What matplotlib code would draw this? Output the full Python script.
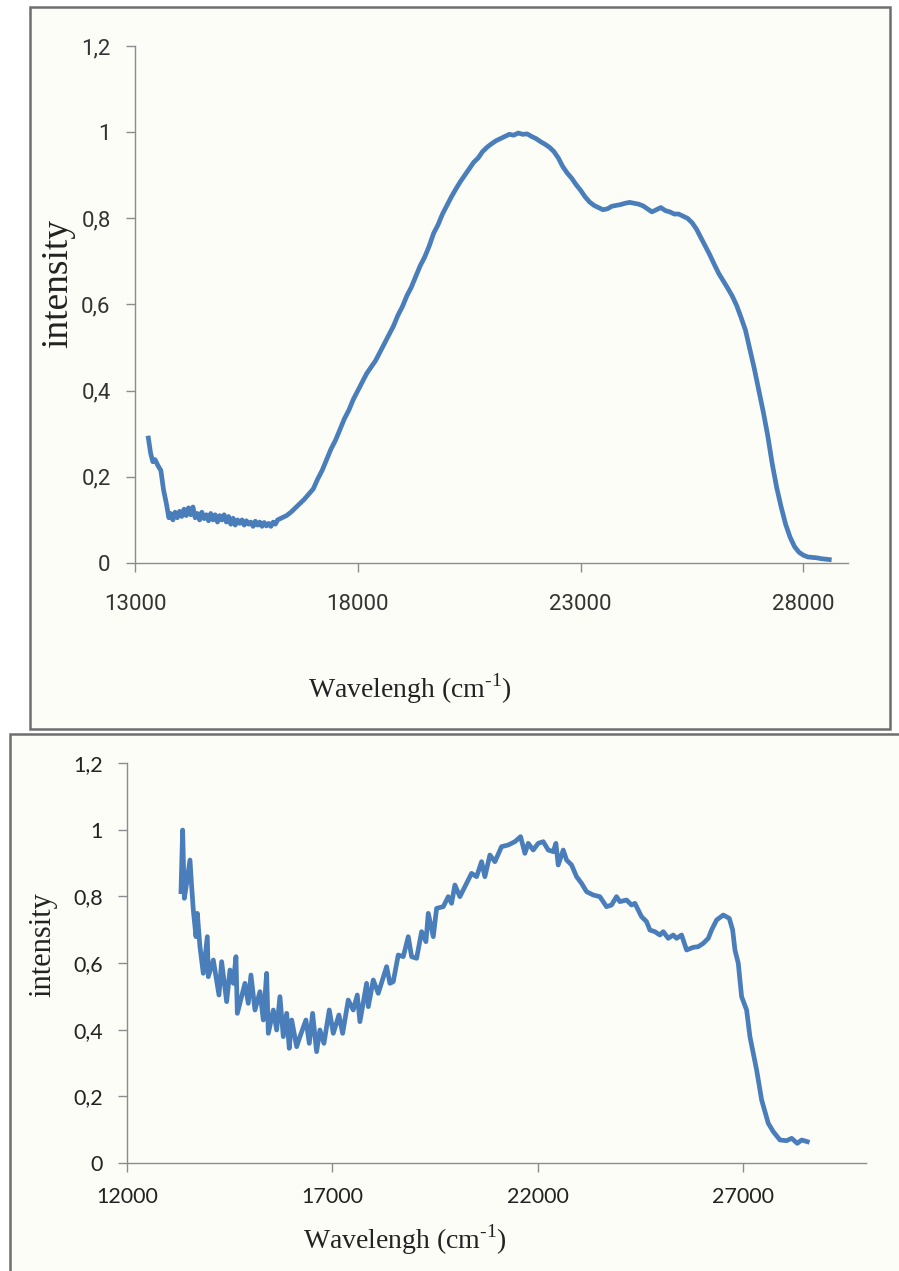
import matplotlib
matplotlib.use("Agg")
import matplotlib.pyplot as plt
from matplotlib.patches import Rectangle

plt.rcParams["axes.unicode_minus"] = False

# ---------------- data ----------------
top_x = [13300, 13350, 13400, 13450, 13520, 13580, 13640, 13700, 13760, 13800,
         13850, 13900, 13950, 14000, 14050, 14100, 14150, 14200, 14250, 14300,
         14350, 14400, 14450, 14500, 14550, 14600, 14650, 14700, 14750, 14800,
         14850, 14900, 14950, 15000, 15050, 15100, 15150, 15200, 15250, 15300,
         15350, 15400, 15450, 15500, 15550, 15600, 15650, 15700, 15750, 15800,
         15850, 15900, 15950, 16000, 16050, 16100, 16150, 16200, 16300, 16400,
         16500, 16600, 16700, 16800, 16900, 17000, 17100, 17200, 17300, 17400,
         17500, 17600, 17700, 17800, 17900, 18000, 18100, 18200, 18300, 18400,
         18500, 18600, 18700, 18800, 18900, 19000, 19100, 19200, 19300, 19400,
         19500, 19600, 19700, 19800, 19900, 20000, 20100, 20200, 20300, 20400,
         20500, 20600, 20700, 20800, 20900, 21000, 21100, 21200, 21300, 21400,
         21500, 21600, 21700, 21800, 21900, 22000, 22100, 22200, 22300, 22400,
         22500, 22600, 22700, 22800, 22900, 23000, 23100, 23200, 23300, 23400,
         23500, 23600, 23700, 23800, 23900, 24000, 24100, 24200, 24300, 24400,
         24500, 24600, 24700, 24800, 24900, 25000, 25100, 25200, 25300, 25400,
         25500, 25600, 25700, 25800, 25900, 26000, 26100, 26200, 26300, 26400,
         26500, 26600, 26700, 26800, 26900, 27000, 27100, 27200, 27300, 27400,
         27500, 27600, 27700, 27800, 27900, 28000, 28100, 28200, 28300, 28400,
         28500, 28580]
top_y = [0.290, 0.255, 0.235, 0.240, 0.225, 0.215, 0.170, 0.140, 0.105, 0.115,
         0.100, 0.118, 0.105, 0.120, 0.108, 0.125, 0.110, 0.128, 0.112, 0.130,
         0.105, 0.115, 0.100, 0.118, 0.103, 0.112, 0.098, 0.115, 0.100, 0.112,
         0.095, 0.110, 0.100, 0.112, 0.095, 0.108, 0.090, 0.104, 0.088, 0.100,
         0.092, 0.100, 0.088, 0.098, 0.090, 0.095, 0.085, 0.097, 0.088, 0.095,
         0.085, 0.094, 0.086, 0.092, 0.085, 0.095, 0.090, 0.100, 0.105, 0.110,
         0.118, 0.128, 0.138, 0.148, 0.160, 0.172, 0.195, 0.215, 0.240, 0.265,
         0.285, 0.310, 0.335, 0.355, 0.380, 0.400, 0.420, 0.440, 0.455, 0.470,
         0.490, 0.510, 0.530, 0.550, 0.575, 0.595, 0.620, 0.640, 0.665, 0.690,
         0.710, 0.735, 0.765, 0.785, 0.810, 0.830, 0.850, 0.868, 0.885, 0.900,
         0.915, 0.930, 0.940, 0.955, 0.965, 0.973, 0.980, 0.985, 0.990, 0.995,
         0.993, 0.998, 0.995, 0.996, 0.990, 0.985, 0.978, 0.972, 0.965, 0.955,
         0.940, 0.920, 0.905, 0.893, 0.878, 0.865, 0.850, 0.838, 0.830, 0.825,
         0.820, 0.822, 0.828, 0.830, 0.832, 0.835, 0.837, 0.835, 0.833, 0.829,
         0.822, 0.815, 0.820, 0.825, 0.818, 0.815, 0.810, 0.810, 0.805, 0.800,
         0.790, 0.775, 0.755, 0.735, 0.715, 0.693, 0.672, 0.655, 0.638, 0.620,
         0.598, 0.570, 0.540, 0.495, 0.450, 0.400, 0.350, 0.295, 0.230, 0.175,
         0.130, 0.090, 0.060, 0.038, 0.025, 0.018, 0.014, 0.013, 0.012, 0.010,
         0.009, 0.008]

bot_x = [13315, 13355, 13396, 13453, 13534, 13575, 13615, 13680, 13713, 13777,
         13858, 13956, 13980, 14102, 14240, 14305, 14427, 14508, 14589, 14654,
         14687, 14873, 14954, 15019, 15117, 15238, 15320, 15401, 15442, 15564,
         15645, 15725, 15807, 15889, 15952, 16011, 16132, 16212, 16358, 16440,
         16521, 16618, 16699, 16797, 16927, 17024, 17162, 17252, 17389, 17511,
         17609, 17673, 17836, 17877, 17998, 18120, 18323, 18404, 18485, 18607,
         18729, 18851, 18932, 19054, 19176, 19281, 19338, 19460, 19541, 19703,
         19825, 19906, 19986, 20108, 20271, 20393, 20515, 20637, 20717, 20839,
         20961, 21123, 21285, 21448, 21586, 21692, 21773, 21894, 22016, 22138,
         22260, 22382, 22447, 22503, 22625, 22707, 22829, 22950, 23072, 23194,
         23356, 23517, 23680, 23802, 23923, 24005, 24167, 24289, 24370, 24533,
         24655, 24736, 24858, 24980, 25061, 25183, 25305, 25386, 25508, 25630,
         25792, 25914, 26036, 26158, 26239, 26361, 26523, 26670, 26752, 26808,
         26889, 26970, 27092, 27173, 27336, 27458, 27620, 27742, 27905, 28067,
         28189, 28326, 28433, 28570]
bot_y = [0.814, 0.999, 0.794, 0.839, 0.909, 0.829, 0.759, 0.679, 0.749, 0.649,
         0.569, 0.679, 0.559, 0.609, 0.504, 0.604, 0.484, 0.579, 0.539, 0.619,
         0.449, 0.539, 0.479, 0.564, 0.459, 0.514, 0.429, 0.569, 0.389, 0.459,
         0.399, 0.499, 0.379, 0.449, 0.344, 0.429, 0.349, 0.379, 0.429, 0.359,
         0.449, 0.334, 0.399, 0.359, 0.459, 0.389, 0.444, 0.389, 0.489, 0.459,
         0.504, 0.424, 0.539, 0.469, 0.549, 0.509, 0.589, 0.539, 0.544, 0.624,
         0.619, 0.679, 0.619, 0.614, 0.694, 0.664, 0.749, 0.679, 0.764, 0.769,
         0.799, 0.779, 0.834, 0.799, 0.839, 0.869, 0.859, 0.904, 0.859, 0.924,
         0.904, 0.949, 0.954, 0.964, 0.979, 0.929, 0.959, 0.939, 0.959, 0.964,
         0.939, 0.934, 0.959, 0.894, 0.939, 0.909, 0.894, 0.859, 0.839, 0.814,
         0.804, 0.799, 0.769, 0.774, 0.799, 0.784, 0.789, 0.774, 0.779, 0.739,
         0.724, 0.699, 0.694, 0.684, 0.694, 0.674, 0.684, 0.674, 0.684, 0.639,
         0.647, 0.649, 0.659, 0.674, 0.699, 0.729, 0.744, 0.734, 0.699, 0.639,
         0.599, 0.499, 0.459, 0.379, 0.279, 0.189, 0.119, 0.094, 0.069, 0.067,
         0.074, 0.059, 0.069, 0.064]

y_ticks = [0, 0.2, 0.4, 0.6, 0.8, 1, 1.2]
y_tick_labels = ["0", "0,2", "0,4", "0,6", "0,8", "1", "1,2"]
top_x_ticks = [13000, 18000, 23000, 28000]
bot_x_ticks = [12000, 17000, 22000, 27000]
x_label = "Wavelengh (cm$^{\\mathregular{\u2010}\\mathregular{1}}$)"
y_label = "intensity"

# ---------------- figure ----------------
W, H = 899, 1271
fig = plt.figure(figsize=(W / 100, H / 100), dpi=100)
fig.patch.set_facecolor("white")

bg = "#FDFDF7"
line_color = "#4A7EBB"
spine_color = "#8C8C8C"


def px_rect(x0, y0, x1, y1):
    return (x0 / W, 1 - y1 / H, (x1 - x0) / W, (y1 - y0) / H)


# panel frames
for (x0, y0, x1, y1) in [(30, 7, 890, 729), (10, 734, 905, 1280)]:
    l, b, w, h = px_rect(x0, y0, x1, y1)
    fig.patches.append(Rectangle((l, b), w, h, transform=fig.transFigure,
                                 facecolor=bg, edgecolor="#6E6E6E",
                                 linewidth=1.8, zorder=-10))

narrow = ["Liberation Sans Narrow", "Roboto", "DejaVu Sans"]
serif = ["Liberation Serif", "DejaVu Serif"]
calib = ["Lato", "DejaVu Sans"]


def style_axes(ax, xt, xlim, family, fsize, col, xpad, ypad):
    ax.set_facecolor("none")
    ax.set_zorder(5)
    for s in ["top", "right"]:
        ax.spines[s].set_visible(False)
    for s in ["left", "bottom"]:
        ax.spines[s].set_color(spine_color)
        ax.spines[s].set_linewidth(1.0)
    ax.set_xlim(*xlim)
    ax.set_ylim(0, 1.2)
    ax.set_yticks(y_ticks)
    ax.set_yticklabels(y_tick_labels)
    ax.set_xticks(xt)
    ax.set_xticklabels([str(v) for v in xt])
    ax.tick_params(axis="both", direction="out", length=6.5, width=1.0,
                   color=spine_color, labelcolor=col)
    ax.tick_params(axis="x", pad=xpad)
    ax.tick_params(axis="y", pad=ypad)
    for lab in ax.get_xticklabels() + ax.get_yticklabels():
        lab.set_family(family)
        lab.set_fontsize(fsize)


# top chart
ax1 = fig.add_axes(px_rect(135, 46, 848, 563))
ax1.plot(top_x, top_y, color=line_color, linewidth=3.4, solid_joinstyle="round")
style_axes(ax1, top_x_ticks, (13000, 29000), narrow, 16, "#333333", 16, 11)

# bottom chart
ax2 = fig.add_axes(px_rect(127, 763, 866, 1163))
ax2.plot(bot_x, bot_y, color=line_color, linewidth=3.4, solid_joinstyle="round")
style_axes(ax2, bot_x_ticks, (12000, 30000), calib, 15.5, "#222222", 11, 11)

# axis titles
fig.text(410 / W, 1 - 689 / H, x_label, family=serif, fontsize=20,
         ha="center", va="center", color="#222222", zorder=6)
fig.text(58 / W, 1 - 284 / H, y_label, family=serif, fontsize=27,
         rotation=90, ha="center", va="center", color="#222222", zorder=6)
fig.text(405 / W, 1 - 1240 / H, x_label, family=serif, fontsize=20,
         ha="center", va="center", color="#222222", zorder=6)
fig.text(43 / W, 1 - 945 / H, y_label, family=serif, fontsize=22,
         rotation=90, ha="center", va="center", color="#222222", zorder=6)

fig.savefig("out.png", dpi=100, facecolor="white")
